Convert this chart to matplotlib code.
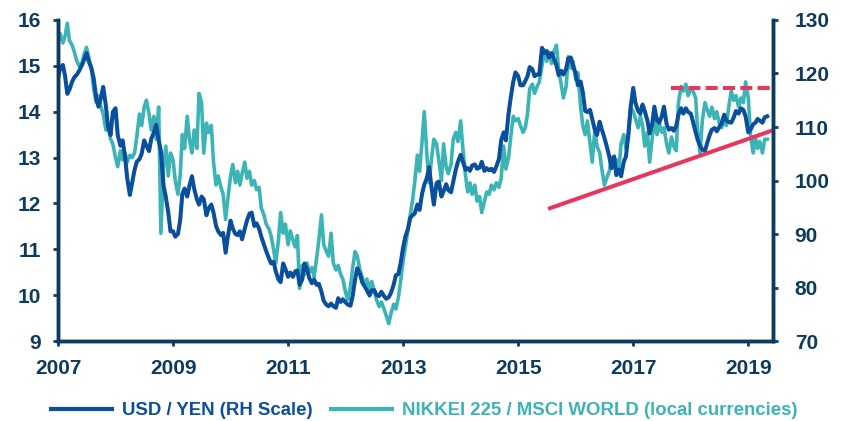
import numpy as np
import pandas as pd
import matplotlib
matplotlib.use("Agg")
import matplotlib.pyplot as plt
from matplotlib.lines import Line2D

plt.rcParams['font.family'] = ['Liberation Sans', 'DejaVu Sans']
plt.rcParams['font.weight'] = 'bold'

# semi-monthly observations, 1st and 15th of each month
dates = pd.date_range("2007-01-01", "2019-05-01", freq="SMS")

usd_yen = [
    # 2007
    119.2, 121.0, 121.6, 119.5, 116.2, 117.0, 118.5, 119.3, 119.8, 120.5, 121.5, 122.5,
    123.8, 122.3, 121.0, 119.2, 115.4, 113.8, 115.5, 117.5, 114.0, 110.0, 108.5, 112.8,
    # 2008
    113.5, 108.5, 106.5, 107.5, 104.5, 100.5, 97.3, 99.5, 102.0, 103.5, 104.0, 105.0,
    107.5, 106.5, 105.5, 107.8, 109.0, 110.4, 107.5, 105.5, 99.0, 97.0, 94.0, 90.5,
    # 2009
    90.5, 89.5, 90.0, 92.5, 97.5, 98.5, 97.0, 99.0, 100.8, 98.5, 96.5, 95.5,
    97.0, 96.5, 93.5, 94.8, 95.5, 94.0, 91.5, 90.5, 89.8, 90.2, 86.5, 89.5,
    # 2010
    92.5, 91.0, 90.0, 89.8, 90.5, 89.0, 91.0, 92.5, 93.8, 94.0, 91.5, 92.0,
    91.0, 89.5, 88.0, 86.8, 85.5, 84.5, 84.8, 83.0, 81.5, 81.0, 84.5, 83.5,
    # 2011
    82.0, 82.8, 82.0, 83.0, 83.2, 80.5, 81.5, 84.5, 83.5, 81.8, 80.8, 81.5,
    80.5, 80.7, 79.2, 77.5, 76.8, 76.5, 77.0, 76.5, 76.2, 78.0, 77.3, 77.8,
    # 2012
    77.2, 76.8, 76.6, 78.5, 81.5, 83.6, 82.5, 81.0, 80.2, 79.5, 78.5, 79.5,
    79.5, 78.6, 78.4, 79.2, 78.4, 77.9, 78.2, 79.0, 80.5, 82.3, 82.5, 84.5,
    # 2013
    87.5, 89.5, 91.0, 93.0, 93.5, 93.8, 95.5, 94.5, 97.5, 99.2, 100.5, 102.5,
    98.5, 95.5, 99.5, 99.8, 97.0, 98.0, 99.3, 98.2, 97.8, 99.8, 102.0, 103.5,
    # 2014
    104.8, 103.5, 102.0, 102.3, 101.8, 102.8, 103.0, 102.2, 102.4, 103.5, 101.8, 102.3,
    101.9, 102.2, 101.6, 102.6, 104.0, 107.5, 109.0, 107.5, 112.5, 115.5, 118.5, 120.2,
    # 2015
    119.5, 117.8, 117.8, 118.6, 119.5, 121.2, 120.8, 119.5, 119.8, 119.8, 124.8, 123.8,
    124.2, 123.0, 123.8, 122.8, 121.5, 119.7, 120.5, 119.8, 120.8, 122.8, 123.0, 121.5,
    # 2016
    120.0, 117.8, 118.5, 116.5, 113.0, 112.8, 113.2, 111.5, 109.5, 108.5, 111.0, 109.5,
    108.0, 106.5, 104.5, 102.3, 104.5, 101.0, 102.0, 100.8, 103.5, 104.5, 109.0, 113.8,
    # 2017
    117.3, 114.5, 113.0, 112.5, 114.2, 113.0, 111.2, 108.8, 110.5, 113.8, 111.2, 110.8,
    112.0, 113.8, 110.5, 109.5, 109.8, 109.3, 110.2, 112.3, 113.5, 112.5, 113.5, 112.8,
    # 2018
    112.5, 111.0, 109.0, 107.5, 106.5, 105.8, 105.5, 107.0, 108.5, 109.5, 109.8, 109.2,
    110.0, 110.6, 112.3, 111.2, 110.9, 110.8, 111.8, 113.0, 112.5, 113.5, 113.2, 112.0,
    # 2019
    109.0, 109.5, 110.5, 110.8, 111.5, 111.2, 110.8, 111.8, 112.0,
]

nikkei_msci = [
    # 2007
    15.60, 15.70, 15.50, 15.65, 15.93, 15.55, 15.45, 15.30, 15.10, 15.00, 15.05, 15.25,
    15.40, 15.20, 14.95, 14.50, 14.20, 14.35, 14.10, 13.95, 13.60, 13.70, 13.40, 13.30,
    # 2008
    13.00, 12.80, 13.15, 12.95, 13.10, 12.90, 13.05, 13.00, 13.10, 13.45, 13.95, 13.70,
    14.10, 14.25, 13.95, 13.60, 13.90, 13.40, 14.10, 11.35, 12.80, 13.25, 12.60, 13.10,
    # 2009
    12.95, 12.50, 12.20, 12.60, 13.50, 13.20, 13.90, 13.40, 13.10, 13.60, 13.20, 14.40,
    14.20, 13.10, 13.75, 13.55, 13.70, 12.90, 12.40, 12.60, 12.35, 12.20, 11.65, 12.10,
    # 2010
    12.60, 12.85, 12.45, 12.70, 12.40, 12.65, 12.90, 12.55, 12.70, 12.40, 12.50, 12.30,
    12.35, 11.90, 11.75, 11.55, 11.45, 11.30, 11.00, 10.70, 11.20, 11.80, 11.35, 11.55,
    # 2011
    11.10, 11.40, 11.20, 11.05, 11.30, 10.15, 10.65, 10.45, 10.70, 10.50, 10.60, 10.40,
    10.80, 11.20, 11.75, 11.10, 10.95, 10.85, 11.35, 10.70, 10.55, 10.65, 10.45, 10.35,
    # 2012
    10.05, 9.90, 10.20, 10.60, 10.95, 10.85, 10.55, 10.40, 10.20, 10.35, 10.15, 10.30,
    10.10, 9.90, 9.75, 9.85, 9.70, 9.55, 9.38, 9.60, 9.80, 9.70, 9.95, 10.30,
    # 2013
    10.75, 11.05, 11.45, 11.75, 12.05, 12.45, 13.05, 12.70, 13.35, 14.00, 13.05, 12.45,
    13.00, 13.40, 13.30, 12.95, 12.50, 13.30, 12.80, 12.65, 12.85, 13.40, 13.55, 13.35,
    # 2014
    13.80, 13.20, 12.60, 12.25, 12.45, 12.20, 12.40, 12.05, 12.15, 11.80, 12.05, 12.25,
    12.20, 12.40, 12.30, 12.45, 12.35, 12.55, 13.25, 12.75, 13.00, 13.45, 13.90, 13.80,
    # 2015
    13.85, 13.70, 13.55, 13.65, 13.95, 14.50, 14.60, 14.40, 14.55, 14.65, 15.00, 15.35,
    15.10, 15.30, 15.05, 15.30, 15.45, 14.90, 14.60, 14.30, 14.55, 15.20, 14.95, 15.10,
    # 2016
    14.70, 14.85, 14.10, 13.70, 13.50, 13.80, 13.30, 12.90, 13.60, 13.25, 13.10, 12.75,
    12.40, 12.55, 12.70, 13.00, 12.80, 12.95, 12.75, 13.30, 13.50, 13.20, 13.45, 14.10,
    # 2017
    14.00, 13.85, 13.65, 13.90, 13.70, 13.25, 13.55, 12.90, 13.40, 13.85, 13.50, 13.75,
    13.55, 13.65, 13.30, 13.10, 13.45, 13.25, 13.15, 14.20, 14.55, 14.45, 14.60, 14.35,
    # 2018
    14.50, 14.45, 14.30, 13.50, 13.10, 13.80, 14.20, 14.05, 13.90, 14.10, 13.85, 14.00,
    13.75, 13.65, 13.80, 13.70, 14.15, 14.45, 14.25, 14.35, 14.10, 14.30, 14.20, 14.65,
    # 2019
    14.30, 13.50, 13.10, 13.45, 13.20, 13.35, 13.10, 13.40, 13.40,
]

# support line and resistance level, in yen
trend_x = [2015.52, 2019.43]
trend_y = [94.7, 109.4]
resist_x = [2017.66, 2019.43]
resist_y = [117.2, 117.2]

year_ticks = [2007, 2009, 2011, 2013, 2015, 2017, 2019]

navy = '#0d3b5e'
blue = '#0a4f9e'
teal = '#3cb4b6'
pink = '#e8365e'

# fractional years for the x axis
t = dates.year + (dates.dayofyear - 1) / 365.25

fig = plt.figure(figsize=(8.43, 4.21), dpi=100)
ax = fig.add_axes([0.0688, 0.19, 0.8482, 0.7625])
ax2 = ax.twinx()

ax.plot(t, nikkei_msci, color=teal, lw=2.6, solid_joinstyle='round')
ax2.plot(t, usd_yen, color=blue, lw=2.9, solid_joinstyle='round')
ax2.plot(trend_x, trend_y, color=pink, lw=2.9, solid_capstyle='butt')
ax2.plot(resist_x, resist_y, color=pink, lw=2.9, dashes=(3, 1.3))

ax.set_xlim(2007, 2019.43)
ax.set_ylim(9, 16)
ax2.set_ylim(70, 130)
ax.set_xticks(year_ticks)
ax.set_yticks(range(9, 17))
ax2.set_yticks(range(70, 131, 10))

for a in (ax, ax2):
    a.spines['top'].set_visible(False)
    for s in ('left', 'right', 'bottom'):
        a.spines[s].set_color(navy)
        a.spines[s].set_linewidth(2.5)
    a.tick_params(colors=navy, labelsize=15, length=3.6, width=2, direction='out')

ax.tick_params(axis='y', pad=8.5)
ax.tick_params(axis='x', pad=9)
ax2.tick_params(axis='y', pad=12)

handles = [Line2D([], [], color=blue, lw=3),
           Line2D([], [], color=teal, lw=3)]
leg = fig.legend(handles, ['USD / YEN (RH Scale)', 'NIKKEI 225 / MSCI WORLD (local currencies)'],
                 loc='center', bbox_to_anchor=(0.503, 0.0245), ncol=2, frameon=False,
                 fontsize=13.4, handlelength=3.3, handletextpad=0.5, columnspacing=1.0)
for txt, c in zip(leg.get_texts(), (blue, teal)):
    txt.set_color(c)

fig.savefig('out.png', dpi=100)
